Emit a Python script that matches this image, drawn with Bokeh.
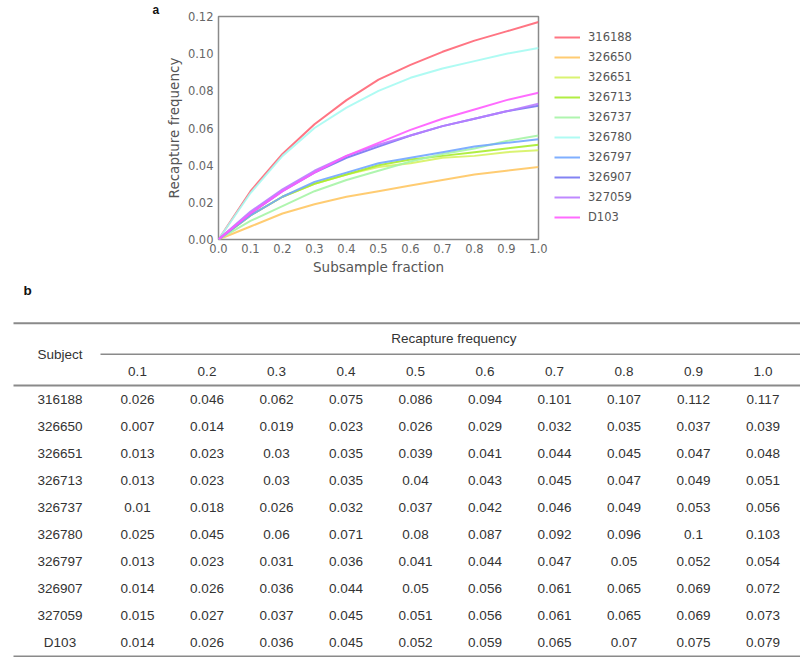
from bokeh.plotting import figure
from bokeh.models import Range1d, Legend, LegendItem, ColumnDataSource, FixedTicker, PrintfTickFormatter
from bokeh.embed import file_html
from bokeh.resources import INLINE
from bokeh.core.properties import value

# ---------------- data ----------------
subjects = ["316188", "326650", "326651", "326713", "326737",
            "326780", "326797", "326907", "327059", "D103"]
fractions = [0.1, 0.2, 0.3, 0.4, 0.5, 0.6, 0.7, 0.8, 0.9, 1.0]

freq_316188 = [0.026, 0.046, 0.062, 0.075, 0.086, 0.094, 0.101, 0.107, 0.112, 0.117]
freq_326650 = [0.007, 0.014, 0.019, 0.023, 0.026, 0.029, 0.032, 0.035, 0.037, 0.039]
freq_326651 = [0.013, 0.023, 0.03, 0.035, 0.039, 0.041, 0.044, 0.045, 0.047, 0.048]
freq_326713 = [0.013, 0.023, 0.03, 0.035, 0.04, 0.043, 0.045, 0.047, 0.049, 0.051]
freq_326737 = [0.01, 0.018, 0.026, 0.032, 0.037, 0.042, 0.046, 0.049, 0.053, 0.056]
freq_326780 = [0.025, 0.045, 0.06, 0.071, 0.08, 0.087, 0.092, 0.096, 0.1, 0.103]
freq_326797 = [0.013, 0.023, 0.031, 0.036, 0.041, 0.044, 0.047, 0.05, 0.052, 0.054]
freq_326907 = [0.014, 0.026, 0.036, 0.044, 0.05, 0.056, 0.061, 0.065, 0.069, 0.072]
freq_327059 = [0.015, 0.027, 0.037, 0.045, 0.051, 0.056, 0.061, 0.065, 0.069, 0.073]
freq_D103 = [0.014, 0.026, 0.036, 0.045, 0.052, 0.059, 0.065, 0.07, 0.075, 0.079]

series = [freq_316188, freq_326650, freq_326651, freq_326713, freq_326737,
          freq_326780, freq_326797, freq_326907, freq_327059, freq_D103]

colors = ["#ff6676", "#ffc763", "#d6f263", "#a9ec2f", "#a6f4a6",
          "#a6fbf2", "#72a6ff", "#7676f2", "#b87cff", "#ff5cff"]

y_ticks = [0.0, 0.02, 0.04, 0.06, 0.08, 0.10, 0.12]
x_ticks = [0.0, 0.1, 0.2, 0.3, 0.4, 0.5, 0.6, 0.7, 0.8, 0.9, 1.0]

# ---------------- panel a ----------------
W = 800
HA = 283
p = figure(frame_width=320, frame_height=223, x_range=Range1d(0, 1), y_range=Range1d(0, 0.12),
           output_backend="svg", toolbar_location=None,
           min_border_left=218, min_border_right=0, min_border_top=15,
           min_border_bottom=45)
p.xgrid.visible = False
p.ygrid.visible = False
p.outline_line_color = "#8a8a8a"
p.outline_line_width = 1.5
p.background_fill_color = "white"
p.border_fill_color = "white"

p.title.text = "a"
p.title.align = "left"
p.title.offset = -66
p.title.standoff = 0
p.title.text_font = "Liberation Sans"
p.title.text_font_style = "bold"
p.title.text_font_size = "12px"
p.title.text_color = "#111111"

for ax in (p.xaxis[0], p.yaxis[0]):
    ax.axis_line_color = None
    ax.major_tick_line_color = None
    ax.minor_tick_line_color = None
    ax.major_tick_out = 0
    ax.major_tick_in = 0
    ax.major_label_text_font = "DejaVu Sans"
    ax.major_label_text_font_size = "11.5px"
    ax.major_label_text_color = "#666666"
    ax.axis_label_text_font = "DejaVu Sans"
    ax.axis_label_text_font_size = "13.5px"
    ax.axis_label_text_font_style = "normal"
    ax.axis_label_text_color = "#555555"

p.xaxis[0].ticker = FixedTicker(ticks=x_ticks)
p.xaxis[0].formatter = PrintfTickFormatter(format="%.1f")
p.xaxis[0].major_label_standoff = 4
p.xaxis[0].axis_label = "Subsample fraction"
p.xaxis[0].axis_label_standoff = 3

p.yaxis[0].ticker = FixedTicker(ticks=y_ticks)
p.yaxis[0].formatter = PrintfTickFormatter(format="%.2f")
p.yaxis[0].major_label_standoff = 5
p.yaxis[0].axis_label = "Recapture frequency"
p.yaxis[0].axis_label_standoff = 3

items = []
for name, vals, col in zip(subjects, series, colors):
    xs = [0.0] + fractions
    ys = [0.0] + vals
    r = p.line(xs, ys, line_color=col, line_width=2, line_alpha=0.9)
    items.append(LegendItem(label=name, renderers=[r]))

legend = Legend(items=items, location=(16, 12), padding=0, margin=0,
                spacing=0, glyph_width=26, glyph_height=20, label_height=20,
                label_standoff=8, label_text_font="DejaVu Sans",
                label_text_font_size="11.5px", label_text_color="#555555",
                border_line_color=None, background_fill_alpha=0)
p.add_layout(legend, "right")

# ---------------- panel b (table) ----------------
top_b = HA
HB = 657 - HA
t = figure(width=W, height=HB, x_range=Range1d(0, W), y_range=Range1d(657, top_b),
           output_backend="svg", toolbar_location=None, min_border=0)
t.xaxis.visible = False
t.yaxis.visible = False
t.xgrid.visible = False
t.ygrid.visible = False
t.outline_line_color = None

col_x0, col_dx = 137.0, 69.5
subj_x = 59.5
row_y0, row_dy = 398.3, 27.0
header_y = 370.0
group_y = 337.0
rule_top, rule_mid, rule_head = 321.7, 352.7, 384.0
rule_bottom = 655.0

col_xs = [col_x0 + col_dx * i for i in range(len(fractions))]
row_ys = [row_y0 + row_dy * j for j in range(len(subjects))]

t.segment(x0=[13, 100, 13, 13], x1=[800, 800, 800, 800],
          y0=[rule_top, rule_mid, rule_head, rule_bottom],
          y1=[rule_top, rule_mid, rule_head, rule_bottom],
          line_color="#8a8a8a", line_width=[2, 1.5, 2, 2])

tx, ty, tt = [], [], []
tx.append(subj_x); ty.append(rule_mid); tt.append("Subject")
tx.append(453.3); ty.append(group_y); tt.append("Recapture frequency")
for cx, f in zip(col_xs, fractions):
    tx.append(cx); ty.append(header_y); tt.append(str(f))
for ry, name, vals in zip(row_ys, subjects, series):
    tx.append(subj_x); ty.append(ry); tt.append(name)
    for cx, v in zip(col_xs, vals):
        tx.append(cx); ty.append(ry); tt.append(str(v))

src = ColumnDataSource(dict(x=tx, y=ty, text=tt))
t.text(x="x", y="y", text="text", source=src, text_font=value("Liberation Sans"),
       text_font_size="13.5px", text_color="#333333", text_align="center",
       text_baseline="middle")

t.text(x=[27], y=[289], text=["b"], text_font=value("Liberation Sans"),
       text_font_style="bold", text_font_size="13.5px", text_color="#111111",
       text_align="center", text_baseline="middle")

open("out.html", "w").write(file_html([p, t], INLINE))
